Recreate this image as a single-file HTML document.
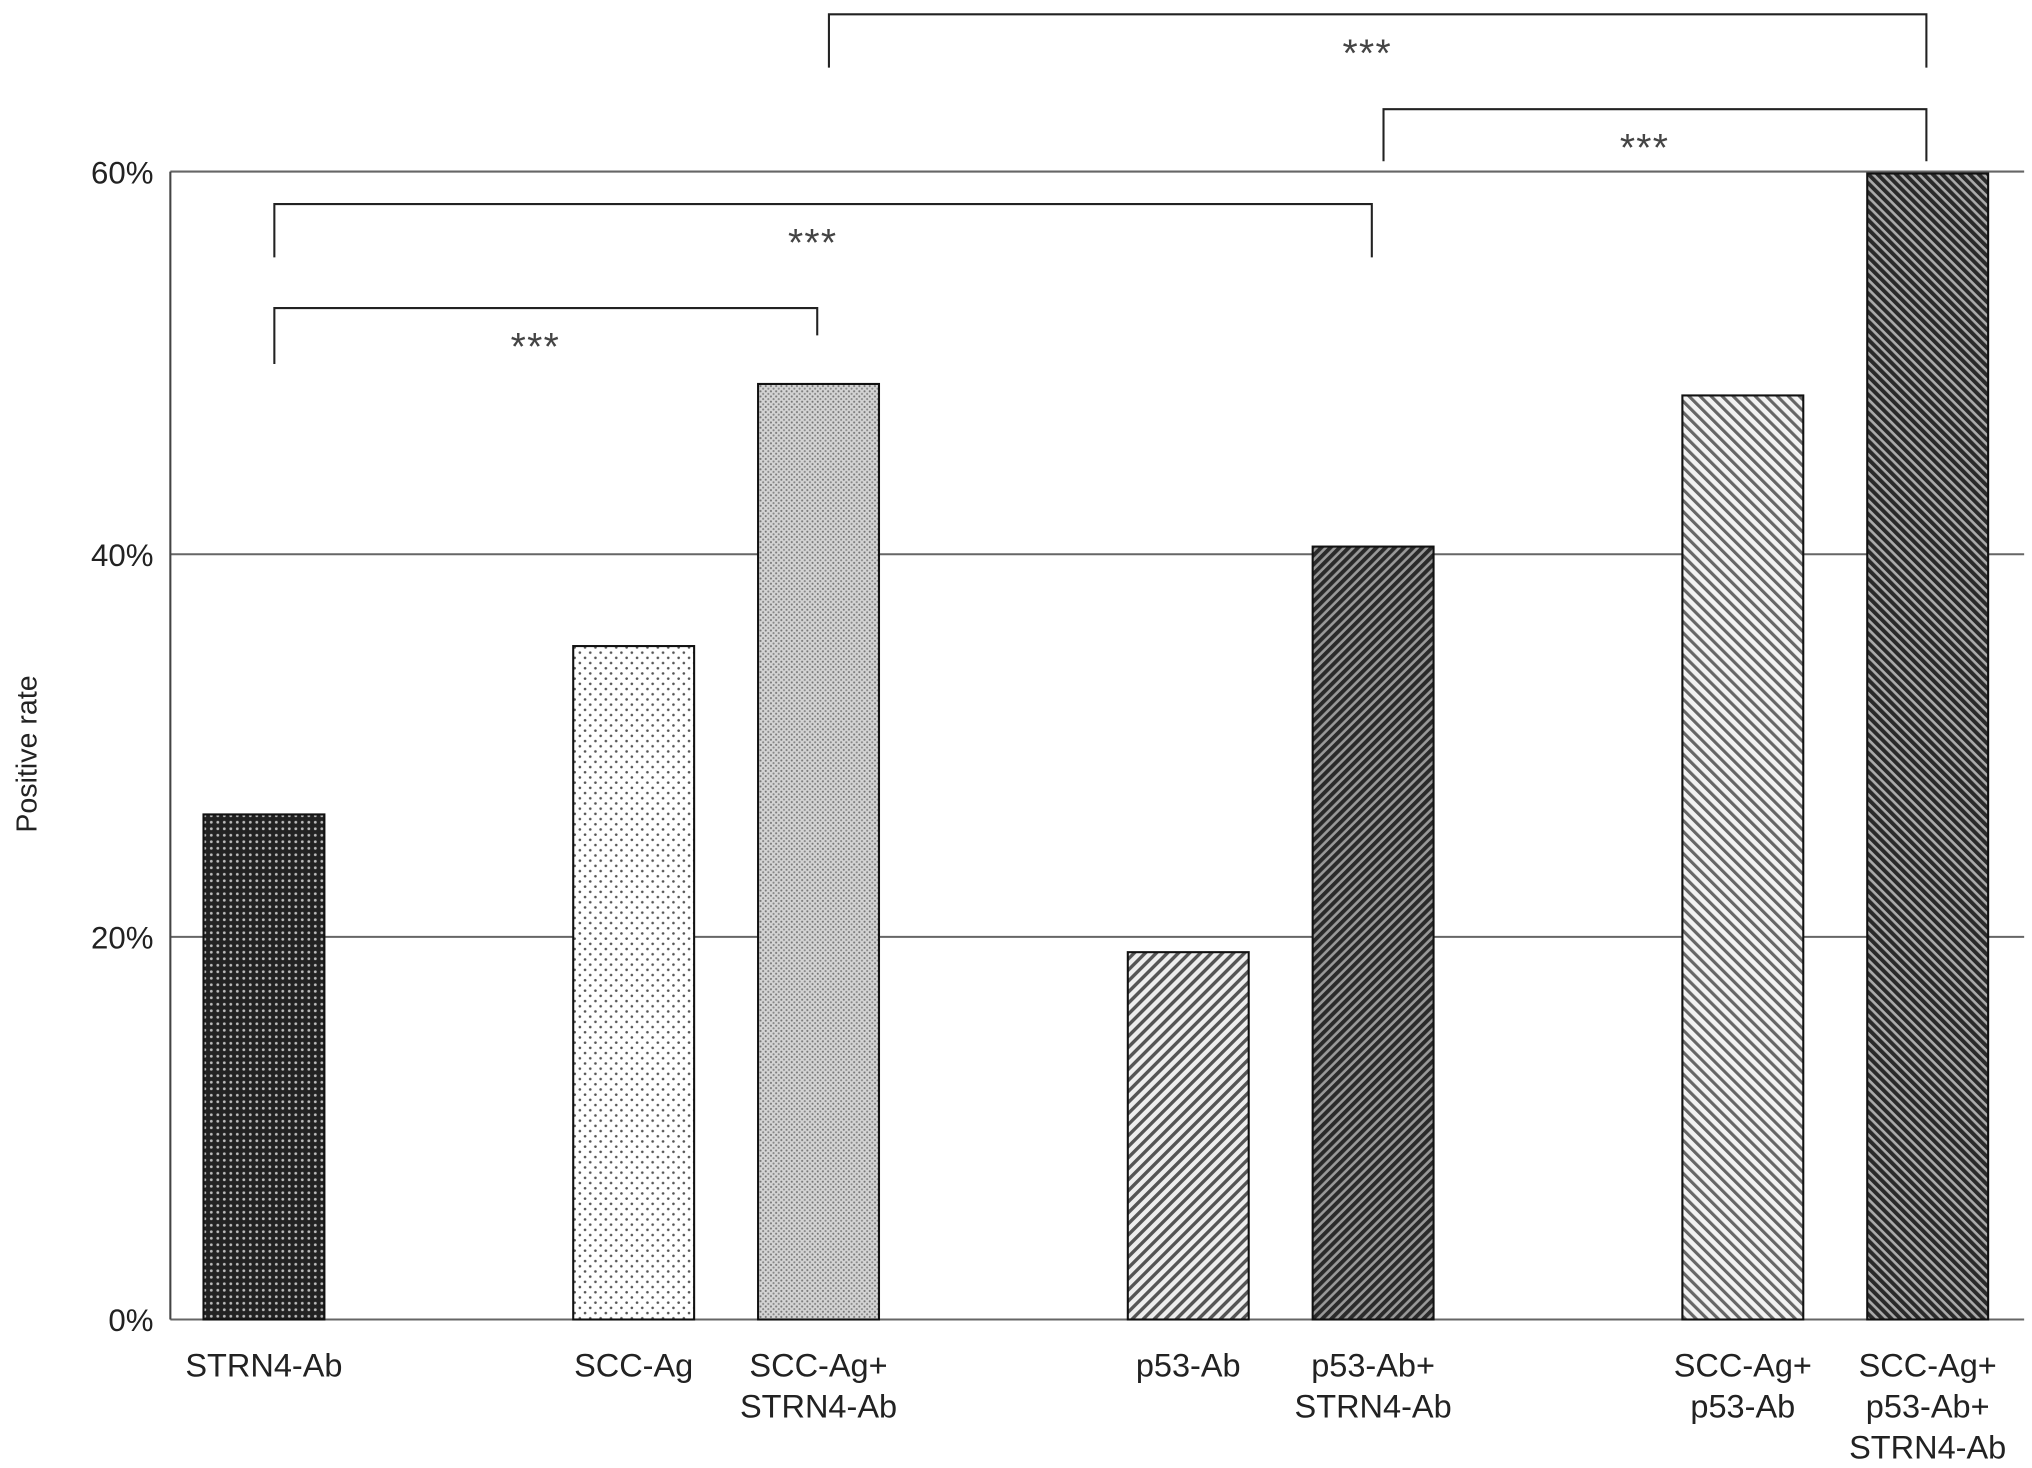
<!DOCTYPE html>
<html><head><meta charset="utf-8"><style>
html,body{margin:0;padding:0;background:#fff;}
svg{display:block;font-family:"Liberation Sans",Arial,sans-serif;}
</style></head><body>
<svg id="chart" width="2032" height="1468" viewBox="0 0 1563 1129.23" xmlns="http://www.w3.org/2000/svg">
<defs>
<pattern id="p0" width="5" height="5" patternUnits="userSpaceOnUse"><rect width="5" height="5" fill="#222"/><circle cx="2.5" cy="2.5" r="1.1" fill="#bbb"/></pattern>
<pattern id="p1" width="8" height="8" patternUnits="userSpaceOnUse"><rect width="8" height="8" fill="#fff"/><circle cx="2" cy="2" r="1" fill="#555"/><circle cx="6" cy="6" r="1" fill="#555"/></pattern>
<pattern id="p2" width="4" height="4" patternUnits="userSpaceOnUse"><rect width="4" height="4" fill="#d4d4d4"/><circle cx="1" cy="1" r="0.8" fill="#777"/><circle cx="3" cy="3" r="0.8" fill="#888"/></pattern>
<pattern id="p3" width="6" height="6" patternUnits="userSpaceOnUse" patternTransform="rotate(45)"><rect width="6" height="6" fill="#eee"/><rect width="2.6" height="6" fill="#555"/></pattern>
<pattern id="p4" width="5" height="5" patternUnits="userSpaceOnUse" patternTransform="rotate(45)"><rect width="5" height="5" fill="#999"/><rect width="3" height="5" fill="#2a2a2a"/></pattern>
<pattern id="p5" width="6" height="6" patternUnits="userSpaceOnUse" patternTransform="rotate(-45)"><rect width="6" height="6" fill="#f2f2f2"/><rect width="2.4" height="6" fill="#666"/></pattern>
<pattern id="p6" width="5" height="5" patternUnits="userSpaceOnUse" patternTransform="rotate(-45)"><rect width="5" height="5" fill="#aaa"/><rect width="3" height="5" fill="#2a2a2a"/></pattern>
</defs>
<g id="grid"></g>
<g id="bars"></g>
<g id="labels"></g>
<g id="brackets"></g>
<text transform="translate(28,580) rotate(-90)" text-anchor="middle" font-size="22" fill="#222">Positive rate</text>
</svg>
<script>
const categories = [["STRN4-Ab"],["SCC-Ag"],["SCC-Ag+","STRN4-Ab"],["p53-Ab"],["p53-Ab+","STRN4-Ab"],["SCC-Ag+","p53-Ab"],["SCC-Ag+","p53-Ab+","STRN4-Ab"]];
const values = [26.4, 35.2, 48.9, 19.2, 40.4, 48.3, 59.9];
const yTicks = [0, 20, 40, 60];
const yTickLabels = ["0%","20%","40%","60%"];
const slots = [0, 2, 3, 5, 6, 8, 9];
const comparisons = [[0,2,"***"],[0,4,"***"],[4,6,"***"],[2,6,"***"]];
const NS = "http://www.w3.org/2000/svg";
const x0 = 131, x1 = 1557, yBase = 1015, yTop = 132;
function y(v){ return yBase - (v/60)*(yBase - yTop); }
function xc(i){ return 203 + slots[i]*142.2; }
const bw = 93;
function mk(tag, attrs, parent){ const e = document.createElementNS(NS, tag); for (const k in attrs) e.setAttribute(k, attrs[k]); parent.appendChild(e); return e; }
const grid = document.getElementById('grid');
yTicks.forEach((t,i)=>{
  const l = mk('line',{x1:x0,x2:x1,y1:y(t),y2:y(t),stroke:'#666','stroke-width':1.6},grid);
  
  
  const tx = mk('text',{x:x0-13,y:y(t)+9,'text-anchor':'end','font-size':24,fill:'#222'},grid);
  tx.textContent = yTickLabels[i];
  
  
});
const ax = mk('line',{x1:x0,x2:x0,y1:yTop,y2:yBase,stroke:'#444','stroke-width':1.6},grid);


const bars = document.getElementById('bars');
const labels = document.getElementById('labels');
values.forEach((v,i)=>{
  const r = mk('rect',{x:xc(i)-bw/2,y:y(v),width:bw,height:yBase-y(v),fill:'url(#p'+i+')',stroke:'#111','stroke-width':1.6},bars);
  
  
  categories[i].forEach((line,j)=>{
    const t = mk('text',{x:xc(i),y:1059+j*31.5,'text-anchor':'middle','font-size':25,fill:'#222'},labels);
    t.textContent = line;
    
    
  });
});
const br = document.getElementById('brackets');
const brY = [237, 157, 84, 11];
const drops = [[280,258],[198,198],[124,124],[52,52]];
comparisons.forEach((c,k)=>{
  const xa = xc(c[0])+8, xb = xc(c[1])-1;
  const p = mk('path',{d:`M${xa},${drops[k][0]} V${brY[k]} H${xb} V${drops[k][1]}`,fill:'none',stroke:'#222','stroke-width':1.6},br);
  
  
  const t = mk('text',{x:(xa+xb)/2-8,y:brY[k]+40,'text-anchor':'middle','font-size':30,fill:'#444','letter-spacing':'1'},br);
  t.textContent = c[2];
  
  
});
</script>
</body></html>
